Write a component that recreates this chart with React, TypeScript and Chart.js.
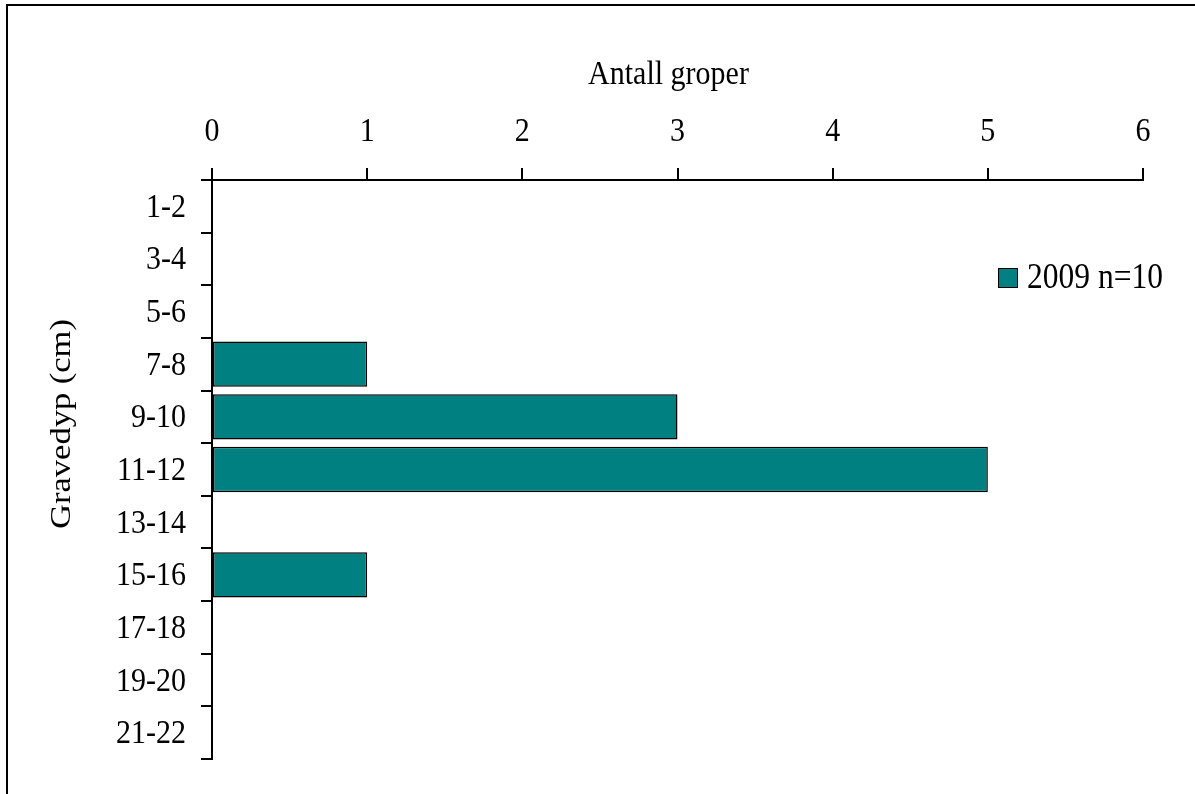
import React, { useEffect, useRef } from "react";
import { Chart, registerables } from "chart.js";

Chart.register(...registerables);

const categories = ["1-2", "3-4", "5-6", "7-8", "9-10", "11-12", "13-14", "15-16", "17-18", "19-20", "21-22"];
const counts = [0, 0, 0, 1, 3, 5, 0, 1, 0, 0, 0];
const seriesLabel = "2009 n=10";
const xTitle = "Antall groper";
const yTitle = "Gravedyp (cm)";

const FONT = "'Liberation Serif', 'Times New Roman', serif";
const TEAL = "#008080";
const STRETCH = 1.15;

function stretchedText(ctx: any, text: string, x: number, y: number, align: string, size: number) {
  ctx.save();
  ctx.font = `${size}px ${FONT}`;
  ctx.translate(x, y);
  ctx.scale(1, STRETCH);
  ctx.textAlign = align;
  ctx.textBaseline = "alphabetic";
  ctx.fillText(text, 0, 0);
  ctx.restore();
}

const decorPlugin = {
  id: "decor",
  beforeDraw(chart: any) {
    const ctx = chart.ctx;
    ctx.save();
    ctx.fillStyle = "#fff";
    ctx.fillRect(0, 0, chart.width, chart.height);
    ctx.restore();
  },
  afterDraw(chart: any) {
    const ctx = chart.ctx;
    ctx.save();
    // outer frame (top and left)
    ctx.strokeStyle = "#000";
    ctx.lineWidth = 2;
    ctx.beginPath();
    ctx.moveTo(6, 5);
    ctx.lineTo(chart.width, 5);
    ctx.moveTo(7, 4);
    ctx.lineTo(7, chart.height);
    ctx.stroke();

    const area = chart.chartArea;
    ctx.fillStyle = "#000";

    // tick labels, drawn at the library's tick positions
    const xs = chart.scales.x;
    xs.ticks.forEach((t: any, i: number) => {
      stretchedText(ctx, String(t.label), xs.getPixelForTick(i), area.top - 39, "center", 30);
    });
    const ys = chart.scales.y;
    ys.ticks.forEach((t: any, i: number) => {
      stretchedText(ctx, String(ys.getLabelForValue(t.value)), area.left - 26, ys.getPixelForTick(i) + 10.5, "right", 30);
    });

    // x title
    stretchedText(ctx, xTitle, (area.left + area.right) / 2 - 9, 84, "center", 30);
    // y title
    ctx.save();
    ctx.font = `30px ${FONT}`;
    ctx.translate(70, 424);
    ctx.rotate(-Math.PI / 2);
    ctx.scale(STRETCH, 1);
    ctx.textAlign = "center";
    ctx.textBaseline = "alphabetic";
    ctx.fillText(yTitle, 0, 0);
    ctx.restore();

    // legend
    const ds = chart.data.datasets[0];
    ctx.fillStyle = ds.backgroundColor;
    ctx.fillRect(998.5, 268.5, 19, 19);
    ctx.strokeStyle = "#000";
    ctx.lineWidth = 1;
    ctx.strokeRect(998.5, 268.5, 19, 19);
    ctx.fillStyle = "#000";
    stretchedText(ctx, ds.label, 1027, 288, "left", 31.5);
    ctx.restore();
  },
};

export default function App() {
  const ref = useRef<HTMLCanvasElement>(null);
  useEffect(() => {
    if (!ref.current) return;
    const chart = new Chart(ref.current, {
      type: "bar",
      data: {
        labels: categories,
        datasets: [
          {
            label: seriesLabel,
            data: counts,
            backgroundColor: TEAL,
            borderColor: "#000",
            borderWidth: 1.5,
            borderSkipped: false,
            barPercentage: 0.86,
            categoryPercentage: 1,
          },
        ],
      },
      options: {
        indexAxis: "y",
        responsive: false,
        animation: false,
        devicePixelRatio: 1,
        layout: { padding: { left: 0, top: 0, right: 52, bottom: 35 } },
        plugins: { legend: { display: false }, tooltip: { enabled: false }, title: { display: false } },
        scales: {
          x: {
            type: "linear",
            position: "top",
            min: 0,
            max: 6,
            ticks: { stepSize: 1, color: "rgba(0,0,0,0)", font: { family: FONT, size: 30 }, padding: 20 },
            grid: { drawOnChartArea: false, drawTicks: true, tickLength: 12, color: "#000", lineWidth: 2 },
            border: { display: true, color: "#000", width: 2 },
            afterFit: (s: any) => {
              s.height = 180;
            },
          },
          y: {
            type: "category",
            position: "left",
            ticks: { color: "rgba(0,0,0,0)", font: { family: FONT, size: 30 }, padding: 14, autoSkip: false },
            grid: { drawOnChartArea: false, drawTicks: true, tickLength: 11, color: "#000", lineWidth: 2, offset: true },
            border: { display: true, color: "#000", width: 2 },
            afterFit: (s: any) => {
              s.width = 212;
            },
          },
        },
      },
      plugins: [decorPlugin],
    });
    return () => chart.destroy();
  }, []);
  return (
    <div style={{ position: "absolute", left: 0, top: 0, width: 1195, height: 794, background: "#fff" }}>
      <canvas ref={ref} width={1195} height={794} style={{ display: "block" }} />
    </div>
  );
}
